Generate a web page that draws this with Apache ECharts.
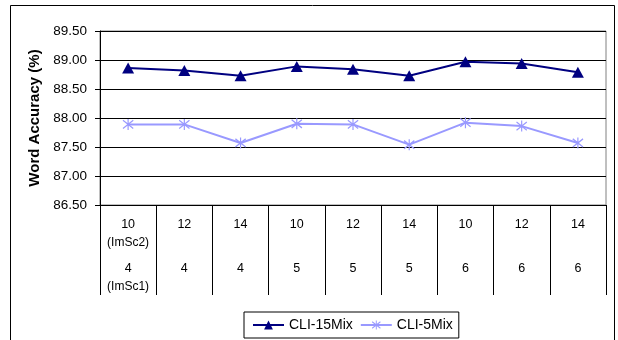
<!DOCTYPE html>
<html>
<head>
<meta charset="utf-8">
<script src="https://cdn.jsdelivr.net/npm/echarts@6/dist/echarts.min.js"></script>
<style>
  html, body { margin: 0; padding: 0; background: #fff; }
  #chart { width: 618px; height: 340px; }
</style>
</head>
<body>
<div id="chart"></div>
<script>
// Mixture-size settings: upper row = ImSc2 components, lower row = ImSc1 components
const imSc2 = ['10', '12', '14', '10', '12', '14', '10', '12', '14'];
const imSc1 = ['4', '4', '4', '5', '5', '5', '6', '6', '6'];
const categories = imSc2.map((v, i) => v + '/' + imSc1[i]);

// Word accuracy (%) per setting
const cli15Mix = [88.86, 88.82, 88.73, 88.89, 88.84, 88.73, 88.97, 88.94, 88.79];
const cli5Mix  = [87.89, 87.89, 87.57, 87.90, 87.89, 87.54, 87.92, 87.86, 87.57];

const yMin = 86.5, yMax = 89.5, yStep = 0.5;

// six-armed asterisk marker (vertical bar + two diagonals)
const asterisk = 'path://M45,0L55,0L55,100L45,100Z' +
  'M4,18L10,8L96,82L90,92Z' +
  'M90,8L96,18L10,92L4,82Z';

const chart = echarts.init(document.getElementById('chart'), null, { renderer: 'canvas' });

chart.setOption({
  animation: false,
  backgroundColor: '#ffffff',
  textStyle: { fontFamily: 'Liberation Sans, Arial, sans-serif' },
  grid: {
    left: 100, right: 12, top: 31, bottom: 135,
    show: true, borderColor: '#808080', borderWidth: 1, backgroundColor: '#ffffff'
  },
  graphic: [{
    type: 'rect',
    shape: { x: 10.5, y: 5.5, width: 604, height: 400 },
    style: { fill: 'none', stroke: '#000', lineWidth: 1 },
    silent: true, z: -1
  }],
  legend: {
    left: 244, top: 312,
    padding: [6, 6, 6, 8],
    borderColor: '#000', borderWidth: 1,
    itemWidth: 31, itemHeight: 11, itemGap: 7,
    textStyle: { fontSize: 14, color: '#000' },
    data: ['CLI-15Mix', 'CLI-5Mix']
  },
  xAxis: {
    type: 'category',
    data: categories,
    boundaryGap: true,
    axisLine: { lineStyle: { color: '#000', width: 1 } },
    axisTick: { show: true, interval: 0, length: 90, lineStyle: { color: '#000' } },
    splitLine: { show: false },
    axisLabel: {
      interval: 0,
      margin: 11,
      color: '#000',
      formatter: function (val, idx) {
        const top = imSc2[idx], bot = imSc1[idx];
        if (idx === 0) {
          return '{a|' + top + '}\n{b|(ImSc2)}\n{s| }\n{a|' + bot + '}\n{b|(ImSc1)}';
        }
        return '{a|' + top + '}\n{b| }\n{s| }\n{a|' + bot + '}';
      },
      rich: {
        a: { fontSize: 12.5, lineHeight: 17.7, color: '#000' },
        b: { fontSize: 12, lineHeight: 17.7, color: '#000' },
        s: { fontSize: 4, lineHeight: 8.6 }
      }
    }
  },
  yAxis: {
    type: 'value',
    min: yMin, max: yMax, interval: yStep,
    name: 'Word Accuracy (%)',
    nameLocation: 'middle',
    nameGap: 58,
    nameTextStyle: { fontSize: 15, fontWeight: 'bold', color: '#000' },
    axisLine: { show: true, lineStyle: { color: '#000', width: 1 } },
    axisTick: { show: true, length: 5, lineStyle: { color: '#000' } },
    splitLine: { show: true, lineStyle: { color: '#000', width: 1 } },
    axisLabel: {
      margin: 13,
      fontSize: 13.5,
      color: '#000',
      formatter: v => v.toFixed(2)
    }
  },
  series: [
    {
      name: 'CLI-15Mix',
      type: 'line',
      data: cli15Mix,
      symbol: 'triangle',
      symbolSize: [12, 11],
      color: '#000080',
      lineStyle: { color: '#000080', width: 2 },
      itemStyle: { color: '#000080' },
      z: 3
    },
    {
      name: 'CLI-5Mix',
      type: 'line',
      data: cli5Mix,
      symbol: asterisk,
      symbolSize: 11,
      color: '#9999FF',
      lineStyle: { color: '#9999FF', width: 2 },
      itemStyle: { color: '#9999FF' },
      z: 2
    }
  ]
});
</script>
</body>
</html>
